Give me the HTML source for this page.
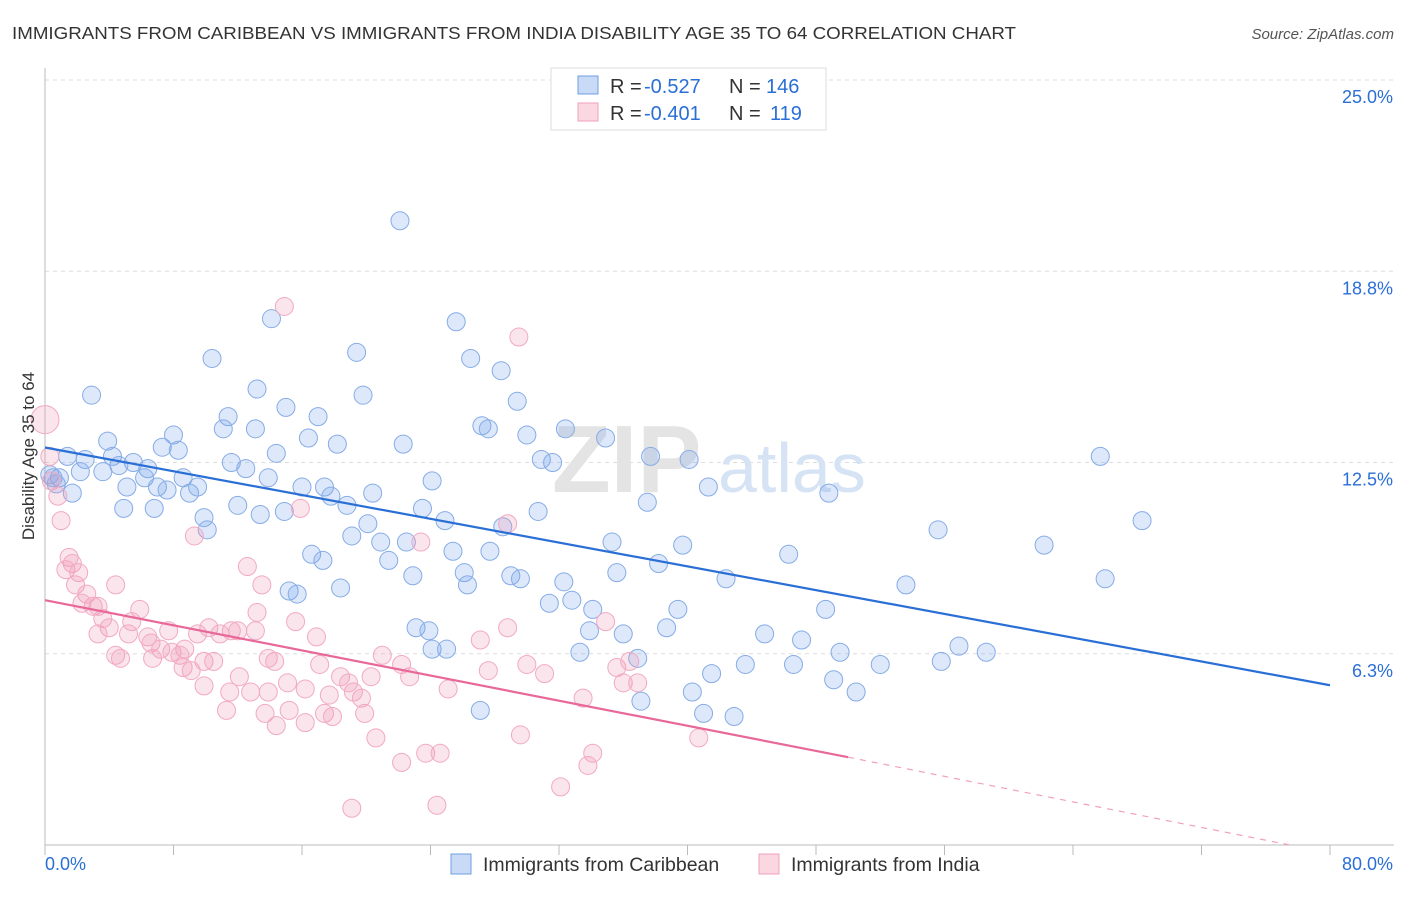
<!DOCTYPE html>
<html><head><meta charset="utf-8"><style>
body{margin:0;background:#fff;font-family:"Liberation Sans",sans-serif;}
svg text{font-family:"Liberation Sans",sans-serif;}
</style></head><body>
<svg id="chart" width="1406" height="892" xmlns="http://www.w3.org/2000/svg">
<text x="12" y="39" font-size="17.5" fill="#333" textLength="1004" lengthAdjust="spacingAndGlyphs">IMMIGRANTS FROM CARIBBEAN VS IMMIGRANTS FROM INDIA DISABILITY AGE 35 TO 64 CORRELATION CHART</text>
<text x="1394" y="39" font-size="15" fill="#555" text-anchor="end" font-style="italic">Source: ZipAtlas.com</text>
<g id="grid"></g>
<text x="552" y="492" font-size="96" fill="#e4e4e4" font-family="Liberation Serif" font-weight="bold">ZIP</text>
<text x="718" y="492" font-size="70" fill="#d6e3f4">atlas</text>
<g id="axes"></g>
<g id="pts"></g>
<g id="lines"></g>
<text transform="translate(34,456) rotate(-90)" font-size="17" fill="#333" text-anchor="middle">Disability Age 35 to 64</text>
<g>
<rect x="551" y="68" width="275" height="62" fill="#fff" stroke="#ddd"/>
<rect x="578" y="76" width="20" height="18" fill="rgba(100,150,230,0.35)" stroke="#6f9fe0"/>
<rect x="578" y="103" width="20" height="18" fill="rgba(240,140,170,0.35)" stroke="#f0a0bc"/>
<text x="610" y="93" font-size="20" fill="#333">R =</text>
<text x="644" y="93" font-size="20" fill="#2a6fd6">-0.527</text>
<text x="729" y="93" font-size="20" fill="#333">N =</text>
<text x="766" y="93" font-size="20" fill="#2a6fd6">146</text>
<text x="610" y="120" font-size="20" fill="#333">R =</text>
<text x="644" y="120" font-size="20" fill="#2a6fd6">-0.401</text>
<text x="729" y="120" font-size="20" fill="#333">N =</text>
<text x="770" y="120" font-size="20" fill="#2a6fd6">119</text>
</g>
<g>
<rect x="451" y="854" width="20" height="20" fill="rgba(100,150,230,0.35)" stroke="#6f9fe0"/>
<text x="483" y="871" font-size="19.5" fill="#333">Immigrants from Caribbean</text>
<rect x="759" y="854" width="20" height="20" fill="rgba(240,140,170,0.35)" stroke="#f0a0bc"/>
<text x="791" y="871" font-size="19.5" fill="#333">Immigrants from India</text>
</g>
</svg>
<script>
const yTicks=[6.25,12.5,18.75,25];
const yTickLabels=["6.3%","12.5%","18.8%","25.0%"];
const xTickLabels=["0.0%","80.0%"];
const blueX=[22.1,14.1,25.6,10.4,19.4,26.5,28.4,2.9,13.2,19.8,29.4,15.0,11.4,17.0,11.1,13.1,27.2,27.6,32.4,30.0,34.9,8.0,16.4,18.2,22.3,3.9,7.3,8.3,1.4,2.5,4.2,5.5,4.6,6.4,2.2,3.6,0.9,0.3,6.2,8.6,11.6,12.5,14.4,13.9,30.9,31.6,37.7,40.1,65.7,24.1,5.1,7.0,9.0,9.5,1.7,7.6,16.0,17.4,17.8,20.4,41.3,48.8,4.9,6.8,12.0,13.4,14.9,18.8,23.5,30.7,37.5,9.9,20.1,24.9,28.5,10.1,19.1,20.9,22.5,35.3,39.7,55.6,62.2,68.3,16.6,25.4,27.7,46.3,17.3,21.4,38.2,26.1,29.0,29.6,22.9,35.6,42.4,66.0,26.3,32.3,18.4,15.2,15.7,53.6,31.4,32.8,34.1,39.4,48.6,38.7,33.9,23.1,23.9,36.0,44.8,47.1,24.1,25.0,33.3,36.9,49.5,56.9,58.6,43.6,46.6,52.0,55.8,41.5,49.1,40.3,50.5,37.1,27.1,41.0,42.9,0.5,0.7];
const blueY=[20.4,17.2,17.1,15.9,16.1,15.9,15.5,14.7,14.9,14.7,14.5,14.3,14.0,14.0,13.6,13.6,13.7,13.6,13.6,13.4,13.3,13.4,13.3,13.1,13.1,13.2,13.0,12.9,12.7,12.6,12.7,12.5,12.4,12.3,12.2,12.2,12.0,12.1,12.0,12.0,12.5,12.3,12.8,12.0,12.6,12.5,12.7,12.6,12.7,11.9,11.7,11.7,11.5,11.7,11.5,11.6,11.7,11.7,11.4,11.5,11.7,11.5,11.0,11.0,11.1,10.8,10.9,11.1,11.0,10.9,11.2,10.7,10.5,10.6,10.4,10.3,10.1,9.9,9.9,9.9,9.8,10.3,9.8,10.6,9.5,9.6,9.6,9.5,9.3,9.3,9.2,8.9,8.8,8.7,8.8,8.9,8.7,8.7,8.5,8.6,8.4,8.3,8.2,8.5,7.9,8.0,7.7,7.7,7.7,7.1,7.0,7.1,7.0,6.9,6.9,6.7,6.4,6.4,6.3,6.1,6.3,6.5,6.3,5.9,5.9,5.9,6.0,5.6,5.4,5.0,5.0,4.7,4.4,4.3,4.2,12.0,11.8];
const pinkX=[14.9,29.5,0,0.3,0.4,0.8,1.0,9.3,1.5,1.7,1.3,2.1,12.6,4.4,13.5,1.9,2.6,3.0,2.3,3.3,5.9,13.2,3.6,5.4,4.0,15.6,10.2,11.6,12.0,3.3,5.2,6.4,7.7,9.5,10.9,13.1,16.9,6.6,7.2,8.7,7.9,8.4,4.4,4.7,6.7,9.9,10.5,13.9,14.3,17.1,21.0,22.2,27.1,28.8,23.4,15.9,28.8,34.9,30.0,35.6,36.4,8.6,9.1,12.1,15.1,18.4,20.3,22.7,27.6,31.1,9.9,11.5,12.8,13.9,16.2,17.7,19.2,25.1,36.0,36.9,33.5,11.3,13.7,15.2,14.4,16.2,17.4,17.9,19.9,20.6,29.6,40.7,23.7,24.6,34.1,33.8,22.2,32.1,19.1,24.4,19.7,18.9];
const pinkY=[17.6,16.6,13.9,12.7,11.9,11.4,10.6,10.1,9.4,9.2,9.0,8.9,9.1,8.5,8.5,8.5,8.2,7.8,7.9,7.8,7.7,7.6,7.4,7.3,7.1,7.3,7.1,7.0,7.0,6.9,6.9,6.8,7.0,6.9,6.9,7.0,6.8,6.6,6.4,6.4,6.3,6.2,6.2,6.1,6.1,6.0,6.0,6.1,6.0,5.9,6.2,5.9,6.7,7.1,9.9,11.0,10.5,7.3,5.9,5.8,6.0,5.8,5.7,5.5,5.3,5.5,5.5,5.5,5.7,5.6,5.2,5.0,5.0,5.0,5.1,4.9,5.0,5.1,5.3,5.3,4.8,4.4,4.3,4.4,3.9,4.0,4.3,4.2,4.3,3.5,3.6,3.5,3.0,3.0,3.0,2.6,2.7,1.9,1.2,1.3,4.8,5.3];
const blueTrend=[[0,12.99],[80,5.22]];
const pinkTrend=[[0,8.0],[50,2.87]];
const pinkDash=[[50,2.87],[77.5,0]];
const NS="http://www.w3.org/2000/svg";
const X0=45,X1=1330,Y0=845,Y25=80;
const sx=v=>X0+(X1-X0)*v/80;
const sy=v=>Y0-(Y0-Y25)*v/25;
function mk(tag,attrs,parent){const e=document.createElementNS(NS,tag);for(const k in attrs)e.setAttribute(k,attrs[k]);parent.appendChild(e);return e;}
const grid=document.getElementById('grid'),axes=document.getElementById('axes'),pts=document.getElementById('pts'),lines=document.getElementById('lines');
yTicks.forEach((t,i)=>{
 const g=mk('line',{x1:X0,x2:1394,y1:sy(t),y2:sy(t),stroke:'#ddd','stroke-dasharray':'4,4'},grid);
 
 
 const tx=mk('text',{x:1393,y:sy(t)+23,'font-size':18,fill:'#2a6fd6','text-anchor':'end'},axes);
 tx.textContent=yTickLabels[i];
 
 
});
const ax=mk('line',{x1:X0,x2:1394,y1:Y0,y2:Y0,stroke:'#bbb'},axes);


const ay=mk('line',{x1:X0,x2:X0,y1:68,y2:Y0,stroke:'#bbb'},axes);


for(let i=0;i<=10;i++){const t=mk('line',{x1:sx(i*8),x2:sx(i*8),y1:Y0,y2:Y0+10,stroke:'#bbb'},axes);
 
 }
[[0,'start',X0],[1,'end',1393]].forEach(([i,a,x])=>{const t=mk('text',{x:x,y:870,'font-size':18,fill:'#2a6fd6','text-anchor':a},axes);t.textContent=xTickLabels[i];
 
 });
function dots(xs,ys,fill,stroke,name){xs.forEach((x,i)=>{const c=mk('circle',{cx:sx(x),cy:sy(ys[i]),r:(x<0.3&&ys[i]>13.5)?14:9,fill:fill,stroke:stroke,'stroke-width':1},pts);
 
 });}
dots(blueX,blueY,'rgba(120,165,235,0.25)','#86ace6','caribbean-point');
dots(pinkX,pinkY,'rgba(240,150,180,0.25)','#f2a9c2','india-point');
function ln(p,col,w,dash,name){const l=mk('line',{x1:sx(p[0][0]),y1:sy(p[0][1]),x2:sx(p[1][0]),y2:sy(p[1][1]),stroke:col,'stroke-width':w},lines);if(dash)l.setAttribute('stroke-dasharray',dash);
 
 }
ln(blueTrend,'#2a6fd6',2.2,null,'caribbean-trend-line');
ln(pinkTrend,'#e8689a',2.2,null,'india-trend-line');
ln(pinkDash,'#f0a0bc',1.2,'6,6','india-trend-extension');
</script>
</body></html>
